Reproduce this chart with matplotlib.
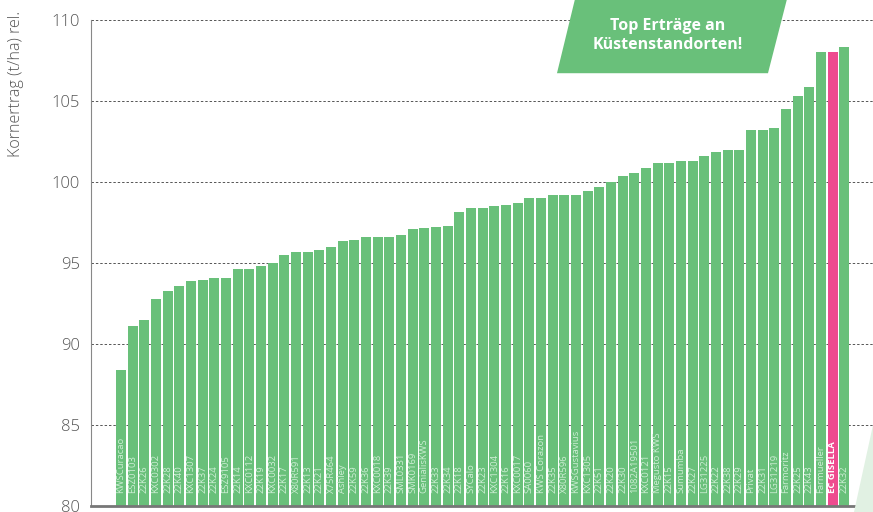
import matplotlib
matplotlib.use("Agg")
from matplotlib import pyplot as plt
from matplotlib.patches import Polygon
import numpy as np

plt.rcParams['font.family'] = ['Open Sans', 'DejaVu Sans']

sorten = ["KWSCuracao", "ESZ0103", "22K26", "KXC0302", "22K28", "22K40", "KXC1307",
          "22K37", "22K24", "ESZ9105", "22K14", "KXC0112", "22K19", "KXC0032", "22K17",
          "X80R591", "22K13", "22K21", "X75R464", "Ashley", "22K59", "22K36", "KXC0018",
          "22K39", "SML0331", "SMK0169", "GenialisKWS", "22K33", "22K34", "22K18", "SYCalo",
          "22K23", "KXC1304", "22K16", "KXC0017", "SA0060", "KWS Corazon", "22K35",
          "X80R596", "KWSGustavius", "KXC1305", "22K51", "22K20", "22K30", "1082A19501",
          "KXC0121", "Megusto KWS", "22K15", "Sumumba", "22K27", "LG31225", "22K22",
          "22K38", "22K29", "Privat", "22K31", "LG31219", "Farmoritz", "22K25", "22K43",
          "Farmueller", "EC GISELLA", "22K32"]
ertrag = [88.4, 91.1, 91.5, 92.8, 93.3, 93.6, 93.9, 93.95, 94.05, 94.1, 94.6, 94.6, 94.8,
          95.0, 95.5, 95.7, 95.7, 95.8, 96.0, 96.35, 96.4, 96.6, 96.6, 96.6, 96.7, 97.1,
          97.15, 97.25, 97.3, 98.15, 98.4, 98.4, 98.5, 98.6, 98.7, 99.0, 99.0, 99.2, 99.2,
          99.2, 99.45, 99.7, 100.0, 100.4, 100.55, 100.85, 101.2, 101.2, 101.3, 101.3,
          101.6, 101.85, 101.95, 101.95, 103.2, 103.2, 103.35, 104.5, 105.3, 105.85,
          108.0, 108.05, 108.35]
highlight = "EC GISELLA"

green = "#69c07a"
pink = "#ee4b8f"

fig = plt.figure(figsize=(8.73, 5.12), dpi=100)

# light green decoration bottom right
fig.patches.append(Polygon([[0.978, 0.0], [1.0, 0.0], [1.0, 0.17]], closed=True,
                           transform=fig.transFigure, facecolor="#e1f1e3", edgecolor="none", zorder=0))

ax = fig.add_axes([0.1042, 0.0117, 0.8958, 0.9493])
ax.set_facecolor("none")

x = np.arange(len(sorten))
colors = [pink if s == highlight else green for s in sorten]
ax.bar(x, np.array(ertrag) - 80, bottom=80, width=0.86, color=colors, zorder=2)

for i, s in enumerate(sorten):
    if s == highlight:
        ax.text(i, 80.8, s, rotation=90, ha="center", va="bottom", fontsize=6.8,
                color="white", fontweight="bold", zorder=3)
    else:
        ax.text(i, 80.8, s, rotation=90, ha="center", va="bottom", fontsize=6.8,
                color="#cdeed4", zorder=3)

ax.set_ylim(80, 110)
ax.set_xlim(-2.57, 64.45)
ax.set_yticks([80, 85, 90, 95, 100, 105, 110])
ax.set_xticks([])
ax.tick_params(axis="y", length=0, labelsize=12, labelcolor="#555555", pad=8)
for lab in ax.get_yticklabels():
    lab.set_fontweight("light")
ax.yaxis.grid(True, linestyle=(0, (2.5, 2)), color="#555555", linewidth=0.7, zorder=0)
ax.set_axisbelow(True)

for side in ["top", "right"]:
    ax.spines[side].set_visible(False)
ax.spines["left"].set_color("#888888")
ax.spines["left"].set_linewidth(0.8)
ax.spines["bottom"].set_color("#777777")
ax.spines["bottom"].set_linewidth(2)

fig.text(0.018, 0.978, "Kornertrag (t/ha) rel.", rotation=90, ha="center", va="top",
         fontsize=11.6, color="#555555", fontweight="light")

# callout box
box = Polygon([[0.6598, 1.01], [0.9027, 1.01], [0.8797, 0.857], [0.638, 0.857]], closed=True,
              transform=fig.transFigure, facecolor=green, edgecolor="none", zorder=5)
fig.patches.append(box)
fig.text(0.765, 0.931, "Top Erträge an\nKüstenstandorten!", ha="center", va="center",
         fontsize=11.5, color="white", fontweight="bold", linespacing=1.3, zorder=6)

fig.savefig("out.png", dpi=100)
